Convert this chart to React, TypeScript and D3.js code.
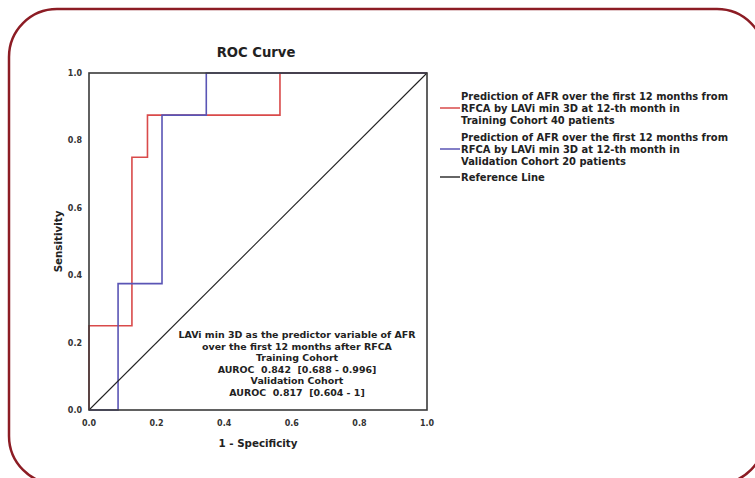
import React from "react";
import * as d3 from "d3";

// ROC points (1 - specificity, sensitivity)
const trainFpr = [0, 0, 0.127, 0.127, 0.173, 0.173, 0.565, 0.565, 1];
const trainTpr = [0, 0.25, 0.25, 0.75, 0.75, 0.875, 0.875, 1, 1];
const validFpr = [0, 0.086, 0.086, 0.216, 0.216, 0.347, 0.347, 1];
const validTpr = [0, 0, 0.375, 0.375, 0.875, 0.875, 1, 1];
const refFpr = [0, 1];
const refTpr = [0, 1];

const ticks = [0, 0.2, 0.4, 0.6, 0.8, 1.0];

const legendItems = [
  {
    color: "#d94a4a",
    lines: [
      "Prediction of AFR over the first 12 months from",
      "RFCA by LAVi min 3D at 12-th month in",
      "Training Cohort 40 patients",
    ],
  },
  {
    color: "#5a55b5",
    lines: [
      "Prediction of AFR over the first 12 months from",
      "RFCA by LAVi min 3D at 12-th month in",
      "Validation Cohort 20 patients",
    ],
  },
  { color: "#333333", lines: ["Reference Line"] },
];

const noteLines = [
  "LAVi min 3D as the predictor variable of AFR",
  "over the first 12 months after RFCA",
  "Training Cohort",
  "AUROC  0.842  [0.688 - 0.996]",
  "Validation Cohort",
  "AUROC  0.817  [0.604 - 1]",
];

const W = 755;
const H = 478;
const plot = { left: 89, right: 427, top: 73, bottom: 410 };

export default function App() {
  const x = d3.scaleLinear().domain([0, 1]).range([plot.left, plot.right]);
  const y = d3.scaleLinear().domain([0, 1]).range([plot.bottom, plot.top]);

  const path = (fx: number[], fy: number[]) =>
    d3
      .line<number>()
      .x((_, i) => x(fx[i]))
      .y((_, i) => y(fy[i]))(fx);

  const font = "'DejaVu Sans', Arial, sans-serif";

  let ly = 96;
  const legendRows = legendItems.map((item, k) => {
    const top = ly;
    ly += item.lines.length * 12 + (k === 1 ? 4 : 5);
    return { ...item, top };
  });

  return (
    <svg
      width={W}
      height={H}
      style={{ position: "absolute", left: 0, top: 0, background: "#fff" }}
      fontFamily={font}
    >
      <rect
        x={9}
        y={9}
        width={756}
        height={475}
        rx={48}
        ry={48}
        fill="none"
        stroke="#8c1c24"
        strokeWidth={2.5}
      />

      <text x={256} y={57} textAnchor="middle" fontSize={13.2} fontWeight="bold" fill="#222">
        ROC Curve
      </text>

      {/* curves */}
      <path d={path(trainFpr, trainTpr) || ""} fill="none" stroke="#d94a4a" strokeWidth={1.6} />
      <path d={path(validFpr, validTpr) || ""} fill="none" stroke="#5a55b5" strokeWidth={1.6} />
      <path d={path(refFpr, refTpr) || ""} fill="none" stroke="#222" strokeWidth={1.1} />

      <rect
        x={plot.left}
        y={plot.top}
        width={plot.right - plot.left}
        height={plot.bottom - plot.top}
        fill="none"
        stroke="#3a3a3a"
        strokeWidth={1.6}
      />

      {/* y ticks */}
      {ticks.map((t) => (
        <text
          key={"y" + t}
          x={82}
          y={y(t) + 3}
          textAnchor="end"
          fontSize={8}
          fontWeight="bold"
          fill="#333"
        >
          {t.toFixed(1)}
        </text>
      ))}
      {/* x ticks */}
      {ticks.map((t) => (
        <text
          key={"x" + t}
          x={x(t)}
          y={426}
          textAnchor="middle"
          fontSize={8}
          fontWeight="bold"
          fill="#333"
        >
          {t.toFixed(1)}
        </text>
      ))}

      <text x={258} y={447} textAnchor="middle" fontSize={10.3} fontWeight="bold" fill="#222">
        1 - Specificity
      </text>
      <text
        transform={`translate(62,${(plot.top + plot.bottom) / 2}) rotate(-90)`}
        textAnchor="middle"
        fontSize={10.3}
        fontWeight="bold"
        fill="#222"
      >
        Sensitivity
      </text>

      {/* note inside plot */}
      {noteLines.map((s, i) => (
        <text
          key={"n" + i}
          x={297}
          y={338 + i * 11.5}
          textAnchor="middle"
          fontSize={9.45}
          fontWeight="bold"
          fill="#222"
          style={{ whiteSpace: "pre" }}
        >
          {s}
        </text>
      ))}

      {/* legend */}
      {legendRows.map((item, k) => {
        const mid = item.top + ((item.lines.length - 1) * 12) / 2;
        return (
          <g key={"l" + k}>
            <line x1={440} x2={460} y1={mid} y2={mid} stroke={item.color} strokeWidth={1.5} />
            {item.lines.map((s, i) => (
              <text
                key={i}
                x={461}
                y={item.top + i * 12 + 4}
                fontSize={9.95}
                fontWeight="bold"
                fill="#222"
              >
                {s}
              </text>
            ))}
          </g>
        );
      })}
    </svg>
  );
}
